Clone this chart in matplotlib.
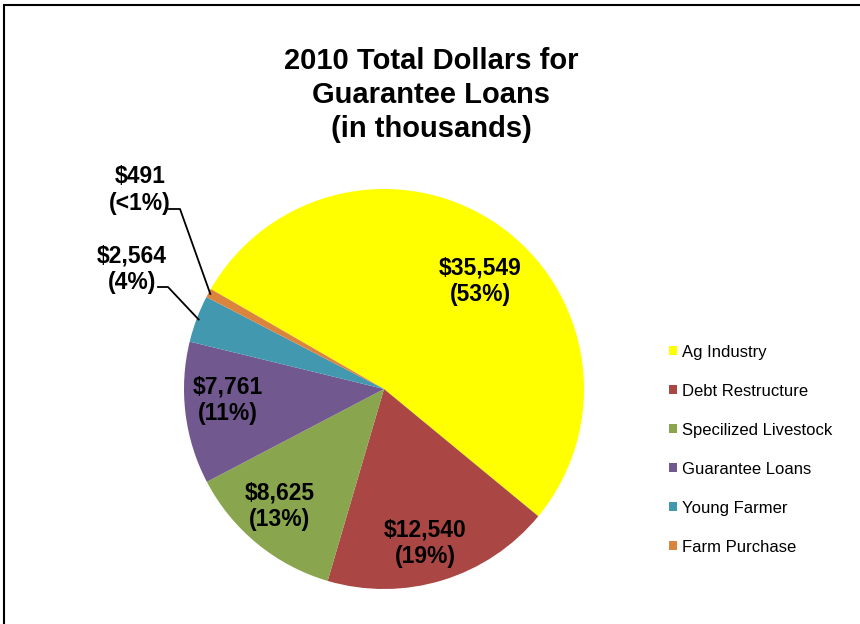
import numpy as np
import matplotlib.pyplot as plt
from matplotlib.patches import Rectangle

plt.rcParams['font.family'] = ['Liberation Sans', 'DejaVu Sans']

categories = ['Ag Industry', 'Debt Restructure', 'Specilized Livestock',
              'Guarantee Loans', 'Young Farmer', 'Farm Purchase']
values = [35549, 12540, 8625, 7761, 2564, 491]
pct_labels = ['53%', '19%', '13%', '11%', '4%', '<1%']
colors = ['#FFFF00', '#AA4643', '#89A54E', '#71588F', '#4198AF', '#DB843D']

# label centres in pie data units (radius = 1)
label_pos = [(0.48, 0.54), (0.205, -0.77), (-0.52, -0.585), (-0.78, -0.055),
             (-1.26, 0.60), (-1.22, 0.995)]
# leader elbows for the small slices (index -> elbow point)
elbows = {4: (-1.08, 0.51), 5: (-1.02, 0.90)}
starts = {4: (-1.13, 0.51), 5: (-1.075, 0.90)}


def main():
    fig = plt.figure(figsize=(8.6, 6.24), dpi=100)
    ax = fig.add_axes([184 / 860, 35 / 624, 400 / 860, 400 / 624])

    wedges, _ = ax.pie(values, colors=colors, startangle=150, counterclock=False,
                       radius=1, wedgeprops=dict(linewidth=0))
    ax.set_xlim(-1, 1)
    ax.set_ylim(-1, 1)
    ax.set_aspect('equal')
    ax.axis('off')

    for i, (v, p) in enumerate(zip(values, pct_labels)):
        x, y = label_pos[i]
        ax.text(x, y, '${:,}\n({})'.format(v, p), ha='center', va='center',
                fontsize=16.5, fontweight='bold', linespacing=1.19, clip_on=False)
        if i in elbows:
            w = wedges[i]
            mid = np.deg2rad((w.theta1 + w.theta2) / 2)
            ex, ey = np.cos(mid) * 0.99, np.sin(mid) * 0.99
            sx, sy = starts[i]
            bx, by = elbows[i]
            ax.plot([sx, bx, ex], [sy, by, ey], color='black', lw=1.3,
                    clip_on=False)

    fig.text(431.5 / 860, 1 - 95 / 624,
             '2010 Total Dollars for\nGuarantee Loans\n(in thousands)',
             ha='center', va='center', fontsize=21, fontweight='bold',
             linespacing=1.29)

    fig.legend(wedges, categories, loc='center left',
               bbox_to_anchor=(669 / 860, 1 - 449.5 / 624), frameon=False,
               fontsize=12, handlelength=0.5, handleheight=0.5,
               handletextpad=0.25, labelspacing=1.44, borderpad=0,
               borderaxespad=0)

    fig.patches.append(Rectangle((4 / 860, -0.1), 1.0, 1.1 - 5 / 624,
                                 transform=fig.transFigure, fill=False,
                                 edgecolor='black', lw=1.5))

    plt.savefig('out.png', dpi=100)


if __name__ == '__main__':
    main()
